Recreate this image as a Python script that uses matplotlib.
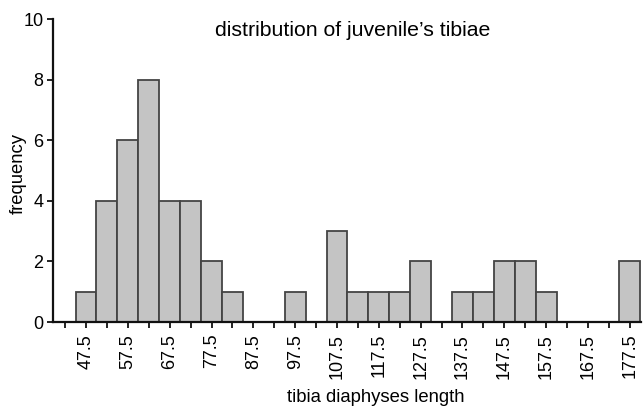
import matplotlib
matplotlib.use("Agg")
import matplotlib.pyplot as plt
import numpy as np

plt.rcParams['font.family'] = ['Liberation Sans', 'DejaVu Sans']

bin_centers = [47.5, 52.5, 57.5, 62.5, 67.5, 72.5, 77.5, 82.5, 87.5, 92.5, 97.5,
               102.5, 107.5, 112.5, 117.5, 122.5, 127.5, 132.5, 137.5, 142.5,
               147.5, 152.5, 157.5, 162.5, 167.5, 172.5, 177.5]
frequency = [1, 4, 6, 8, 4, 4, 2, 1, 0, 0, 1,
             0, 3, 1, 1, 1, 2, 0, 1, 1,
             2, 2, 1, 0, 0, 0, 2]
major_ticks = [47.5, 57.5, 67.5, 77.5, 87.5, 97.5, 107.5, 117.5, 127.5,
               137.5, 147.5, 157.5, 167.5, 177.5]
minor_ticks = [42.5, 52.5, 62.5, 72.5, 82.5, 92.5, 102.5, 112.5, 122.5,
               132.5, 142.5, 152.5, 162.5, 172.5]
y_ticks = [0, 2, 4, 6, 8, 10]

fig = plt.figure(figsize=(6.43, 4.09), dpi=100)
ax = fig.add_axes([0.0824, 0.2127, 0.9146, 0.7408])

xs = [c for c, f in zip(bin_centers, frequency) if f > 0]
hs = [f for f in frequency if f > 0]
ax.bar(xs, hs, width=5, color='#c4c4c4', edgecolor='#444444', linewidth=1.3,
       align='center', zorder=2)

ax.set_xlim(39.6, 180.2)
ax.set_ylim(0, 10)
ax.set_xticks(major_ticks)
ax.set_xticklabels([str(t) for t in major_ticks], rotation=90, fontsize=13)
ax.set_xticks(minor_ticks, minor=True)
ax.set_yticks(y_ticks)
ax.set_yticklabels([str(t) for t in y_ticks], fontsize=13)
ax.tick_params(axis='both', which='both', direction='out', width=1.3, length=4,
               color='#111111')
ax.tick_params(axis='x', which='major', pad=4.5)
ax.tick_params(axis='y', pad=3)

for s in ['top', 'right']:
    ax.spines[s].set_visible(False)
for s in ['left', 'bottom']:
    ax.spines[s].set_linewidth(1.6)
    ax.spines[s].set_color('#111111')

fig.text(353 / 643, 1 - 30 / 409, "distribution of juvenile\u2019s tibiae",
         ha='center', va='center', fontsize=15.3)
fig.text(18.5 / 643, 1 - 173 / 409, 'frequency', rotation=90, ha='center',
         va='center', fontsize=13.3)
fig.text(376 / 643, 1 - 397 / 409, 'tibia diaphyses length', ha='center',
         va='center', fontsize=13.3)

fig.savefig('out.png', dpi=100)
